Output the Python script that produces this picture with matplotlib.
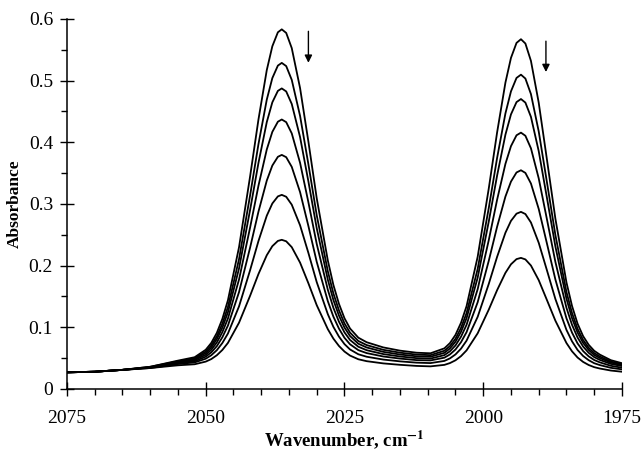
import matplotlib
matplotlib.use("Agg")
import matplotlib.pyplot as plt
from matplotlib.ticker import MultipleLocator, FuncFormatter

plt.rcParams['font.family'] = ['Liberation Serif', 'DejaVu Serif']
plt.rcParams['mathtext.fontset'] = 'stix'

# Wavenumber grid (cm-1)
wavenumber = [2075, 2070, 2065, 2060, 2055, 2052, 2050, 2049, 2048, 2047,
              2046, 2044, 2042, 2040.5, 2039, 2038, 2037, 2036.3, 2035.5, 2034.5,
              2033, 2031.5, 2030, 2028, 2027, 2026, 2025, 2024, 2022.5, 2021,
              2018, 2015, 2012, 2009.5, 2007, 2006, 2005, 2004, 2003, 2001,
              1999, 1997.5, 1996, 1995, 1994, 1993.2, 1992.4, 1991.4, 1990, 1988.5,
              1987, 1985, 1984, 1983, 1982, 1981, 1980, 1979, 1977, 1975]

# Absorbance spectra (top curve to bottom curve)
spec1 = [0.027, 0.028, 0.031, 0.036, 0.046, 0.0515, 0.0636, 0.0747, 0.091, 0.1137,
         0.1439, 0.2299, 0.345, 0.4369, 0.5171, 0.5557, 0.5784, 0.5832, 0.5774, 0.5528,
         0.4879, 0.401, 0.3093, 0.2084, 0.1688, 0.1382, 0.1147, 0.0981, 0.0832, 0.0758,
         0.0674, 0.0622, 0.0588, 0.0579, 0.0659, 0.0744, 0.0877, 0.1074, 0.1344, 0.2144,
         0.3251, 0.4159, 0.4968, 0.5369, 0.5612, 0.5672, 0.5602, 0.532, 0.4643, 0.3708,
         0.2764, 0.1728, 0.1347, 0.1059, 0.0857, 0.0717, 0.0619, 0.0558, 0.0467, 0.0418]
spec2 = [0.027, 0.028, 0.031, 0.036, 0.0449, 0.0498, 0.0607, 0.0707, 0.0853, 0.1059,
         0.133, 0.2105, 0.3142, 0.397, 0.4692, 0.5041, 0.5244, 0.5288, 0.5236, 0.5013,
         0.4428, 0.3644, 0.2818, 0.1909, 0.1551, 0.1276, 0.1063, 0.0914, 0.0778, 0.0712,
         0.0635, 0.0589, 0.0558, 0.0549, 0.062, 0.0696, 0.0814, 0.0991, 0.1231, 0.1947,
         0.2934, 0.3746, 0.4468, 0.4826, 0.5044, 0.5097, 0.5034, 0.4782, 0.4177, 0.3342,
         0.2499, 0.1572, 0.1232, 0.0975, 0.0794, 0.0669, 0.0582, 0.0527, 0.0445, 0.0402]
spec3 = [0.027, 0.028, 0.031, 0.035, 0.0438, 0.0483, 0.0582, 0.0673, 0.0809, 0.0996,
         0.1245, 0.1955, 0.2906, 0.3665, 0.4328, 0.4648, 0.4834, 0.4874, 0.4825, 0.4622,
         0.4085, 0.3365, 0.2607, 0.1772, 0.1444, 0.1191, 0.0996, 0.0859, 0.0734, 0.0673,
         0.0602, 0.0559, 0.053, 0.0523, 0.0586, 0.0657, 0.0766, 0.0927, 0.1149, 0.1806,
         0.2715, 0.346, 0.4124, 0.4453, 0.4652, 0.4702, 0.4644, 0.4413, 0.3857, 0.309,
         0.2314, 0.1464, 0.115, 0.0915, 0.0748, 0.0633, 0.0552, 0.0502, 0.0428, 0.0387]
spec4 = [0.027, 0.028, 0.031, 0.035, 0.0427, 0.0467, 0.0554, 0.0636, 0.0755, 0.0922,
         0.1143, 0.1775, 0.262, 0.3296, 0.3884, 0.4169, 0.4334, 0.437, 0.4327, 0.4145,
         0.3667, 0.3027, 0.2352, 0.1609, 0.1317, 0.1092, 0.0918, 0.0795, 0.0685, 0.0629,
         0.0566, 0.0527, 0.05, 0.0493, 0.0549, 0.0611, 0.0706, 0.0848, 0.1041, 0.1618,
         0.2414, 0.3068, 0.365, 0.3938, 0.4114, 0.4157, 0.4106, 0.3903, 0.3416, 0.2743,
         0.2062, 0.1316, 0.1041, 0.0835, 0.0688, 0.0587, 0.0517, 0.0472, 0.0407, 0.0372]
spec5 = [0.027, 0.028, 0.031, 0.035, 0.0416, 0.0449, 0.0524, 0.0594, 0.0695, 0.0839,
         0.1028, 0.1571, 0.2295, 0.2875, 0.3379, 0.3623, 0.3765, 0.3796, 0.3759, 0.3602,
         0.3192, 0.2642, 0.2062, 0.1424, 0.1174, 0.098, 0.083, 0.0725, 0.063, 0.0582,
         0.0527, 0.0493, 0.0468, 0.0463, 0.0508, 0.056, 0.064, 0.0759, 0.0922, 0.1407,
         0.2079, 0.263, 0.312, 0.3363, 0.3511, 0.3547, 0.3504, 0.3332, 0.292, 0.2352,
         0.1777, 0.1146, 0.0914, 0.0739, 0.0615, 0.0529, 0.047, 0.0432, 0.0376, 0.0345]
spec6 = [0.027, 0.028, 0.031, 0.034, 0.0405, 0.0431, 0.0491, 0.0547, 0.0629, 0.0746,
         0.0899, 0.134, 0.1928, 0.2399, 0.281, 0.3008, 0.3123, 0.3148, 0.3117, 0.2989,
         0.2654, 0.2206, 0.1733, 0.1213, 0.1008, 0.085, 0.0728, 0.0641, 0.0563, 0.0523,
         0.0477, 0.0448, 0.0427, 0.042, 0.0455, 0.0496, 0.056, 0.0654, 0.0784, 0.117,
         0.1704, 0.2142, 0.2533, 0.2726, 0.2843, 0.2872, 0.2837, 0.27, 0.2371, 0.1919,
         0.146, 0.0958, 0.0773, 0.0633, 0.0535, 0.0467, 0.0418, 0.0388, 0.0343, 0.0318]
spec7 = [0.027, 0.028, 0.031, 0.034, 0.0384, 0.0401, 0.0444, 0.0485, 0.0547, 0.0633,
         0.0747, 0.1075, 0.1513, 0.1864, 0.2169, 0.2316, 0.2401, 0.2419, 0.2395, 0.23,
         0.2049, 0.1714, 0.1359, 0.097, 0.0817, 0.0698, 0.0607, 0.0542, 0.0482, 0.0451,
         0.0415, 0.0392, 0.0374, 0.0367, 0.0391, 0.042, 0.0465, 0.0533, 0.0626, 0.0903,
         0.1287, 0.1602, 0.1883, 0.2022, 0.2106, 0.2126, 0.2101, 0.2002, 0.1765, 0.1438,
         0.1108, 0.0745, 0.0611, 0.051, 0.0439, 0.0389, 0.0354, 0.0332, 0.0299, 0.028]

spectra = [spec1, spec2, spec3, spec4, spec5, spec6, spec7]

x_major = [2075, 2050, 2025, 2000, 1975]
y_major = [0, 0.1, 0.2, 0.3, 0.4, 0.5, 0.6]

fig = plt.figure(figsize=(6.41, 4.54), dpi=100)
ax = fig.add_axes([0.1045, 0.1432, 0.8658, 0.815])

for s in spectra:
    ax.plot(wavenumber, s, color='black', lw=1.3, solid_joinstyle='round')

ax.set_xlim(2075, 1975)
ax.set_ylim(0, 0.6)

ax.spines['top'].set_visible(False)
ax.spines['right'].set_visible(False)
for sp in ('left', 'bottom'):
    ax.spines[sp].set_linewidth(1.1)

ax.set_xticks(x_major)
ax.set_yticks(y_major)
ax.xaxis.set_minor_locator(MultipleLocator(5))
ax.yaxis.set_minor_locator(MultipleLocator(0.05))
ax.yaxis.set_major_formatter(FuncFormatter(lambda v, p: '0' if abs(v) < 1e-9 else f'{v:.1f}'))

ax.tick_params(axis='both', which='major', direction='inout', length=10, width=1.0,
               labelsize=14, colors='black')
ax.tick_params(axis='both', which='minor', direction='out', length=4, width=1.0)
ax.tick_params(axis='x', which='major', pad=10)
ax.tick_params(axis='y', which='major', pad=5)

ax.set_xlabel(r'Wavenumber, cm$^{\mathbf{-1}}$', fontsize=13.5, fontweight='bold', labelpad=1)
ax.set_ylabel('Absorbance', fontsize=12.5, fontweight='bold', labelpad=4)

arrow_kw = dict(arrowstyle='-|>', color='black', lw=1.0, mutation_scale=11, shrinkA=0, shrinkB=0)
ax.annotate('', xy=(2031.5, 0.529), xytext=(2031.5, 0.580), arrowprops=arrow_kw)
ax.annotate('', xy=(1988.7, 0.514), xytext=(1988.7, 0.564), arrowprops=arrow_kw)

fig.savefig('out.png', dpi=100)
